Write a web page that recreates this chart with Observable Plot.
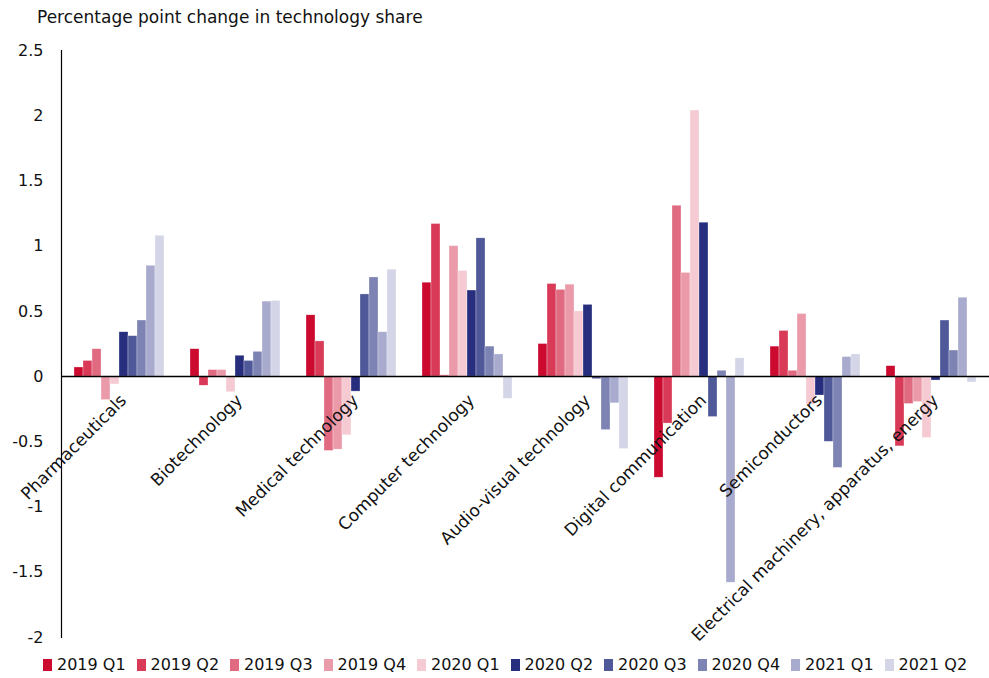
<!DOCTYPE html>
<html>
<head>
<meta charset="utf-8">
<script src="https://cdn.jsdelivr.net/npm/d3@7"></script>
<script src="https://cdn.jsdelivr.net/npm/@observablehq/plot@0.6"></script>
<style>
  html, body { margin: 0; padding: 0; background: #fff; }
  body { width: 989px; height: 678px; overflow: hidden; font-family: "DejaVu Sans", sans-serif; color: #111; }
  #title { height: 34px; line-height: 34px; padding-left: 37px; font-size: 17px; }
  #legend { display: flex; padding-left: 43px; padding-top: 5px; height: 20px; align-items: center; }
  .item { width: 93.5px; display: flex; align-items: center; font-size: 16px; line-height: 20px; white-space: nowrap; }
  .sw { width: 9px; height: 12px; margin-right: 5px; flex: none; }
</style>
</head>
<body>
<div id="title">Percentage point change in technology share</div>
<div id="chart"></div>
<div id="legend"></div>
<script>
const categories = [
  "Pharmaceuticals",
  "Biotechnology",
  "Medical technology",
  "Computer technology",
  "Audio-visual technology",
  "Digital communication",
  "Semiconductors",
  "Electrical machinery, apparatus, energy"
];
const quarters = ["2019 Q1","2019 Q2","2019 Q3","2019 Q4","2020 Q1","2020 Q2","2020 Q3","2020 Q4","2021 Q1","2021 Q2"];
const colors = ["#cc0a30","#d93a58","#e06a80","#ea9aa8","#f5cad3","#272e7e","#4f5899","#7d83b3","#a8abcd","#d4d6e8"];
const yTicks = [-2, -1.5, -1, -0.5, 0, 0.5, 1, 1.5, 2, 2.5];

const pharmaceuticals = [0.07, 0.12, 0.21, -0.18, -0.06, 0.34, 0.31, 0.43, 0.85, 1.08];
const biotechnology   = [0.21, -0.07, 0.05, 0.05, -0.12, 0.16, 0.12, 0.19, 0.575, 0.58];
const medicalTech     = [0.47, 0.27, -0.57, -0.56, -0.45, -0.115, 0.63, 0.76, 0.34, 0.82];
const computerTech    = [0.72, 1.17, 0.01, 1.00, 0.81, 0.66, 1.06, 0.23, 0.17, -0.17];
const audioVisual     = [0.25, 0.71, 0.665, 0.705, 0.50, 0.55, -0.02, -0.41, -0.205, -0.555];
const digitalComm     = [-0.775, -0.36, 1.31, 0.795, 2.04, 1.18, -0.31, 0.045, -1.58, 0.14];
const semiconductors  = [0.23, 0.35, 0.045, 0.48, -0.215, -0.145, -0.50, -0.70, 0.15, 0.17];
const electrical      = [0.08, -0.535, -0.21, -0.195, -0.47, -0.03, 0.43, 0.20, 0.605, -0.045];

const seriesByCategory = [pharmaceuticals, biotechnology, medicalTech, computerTech, audioVisual, digitalComm, semiconductors, electrical];
const rows = [];
categories.forEach((c, ci) => quarters.forEach((q, qi) => rows.push({category: c, quarter: q, value: seriesByCategory[ci][qi]})));

const fmt = d => String(d);

const chart = Plot.plot({
  width: 989,
  height: 616,
  marginLeft: 60,
  marginRight: 0,
  marginTop: 16,
  marginBottom: 13,
  style: {fontFamily: "DejaVu Sans, sans-serif", fontSize: "16px", color: "#111", background: "white", overflow: "visible"},
  fx: {domain: categories, padding: 0, axis: null, label: null},
  x: {domain: quarters, paddingInner: 0, paddingOuter: 0.9, axis: null, label: null},
  y: {domain: [-2, 2.5], axis: null},
  color: {domain: quarters, range: colors},
  marks: [
    Plot.barY(rows, {fx: "category", x: "quarter", y: "value", fill: "quarter", stroke: "white", strokeWidth: 0.5, strokeOpacity: 0.6}),
    Plot.ruleY([0], {stroke: "#000", strokeWidth: 1.5}),
    Plot.frame({anchor: "left", facetAnchor: "left", stroke: "#000", strokeWidth: 1.2}),
    Plot.axisY({ticks: yTicks, tickSize: 0, tickPadding: 18, tickFormat: fmt, fontSize: 16, label: null, facetAnchor: "left"}),
    Plot.text(categories, {fx: d => d, y: () => 0, text: d => d, rotate: -45, textAnchor: "end", dx: 4, dy: 21, fontSize: 17, fill: "#111"})
  ]
});
document.getElementById("chart").appendChild(chart);

const legend = document.getElementById("legend");
quarters.forEach((q, i) => {
  const item = document.createElement("div");
  item.className = "item";
  const sw = document.createElement("span");
  sw.className = "sw";
  sw.style.background = colors[i];
  const t = document.createElement("span");
  t.textContent = q;
  item.appendChild(sw);
  item.appendChild(t);
  legend.appendChild(item);
});
</script>
</body>
</html>
